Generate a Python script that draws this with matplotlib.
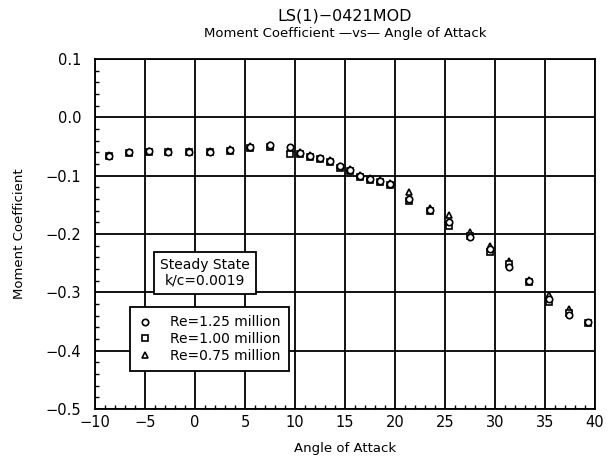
import matplotlib
matplotlib.use("Agg")
import matplotlib.pyplot as plt
from matplotlib.ticker import MultipleLocator

plt.rcParams['font.family'] = ['DejaVu Sans']

alpha = [-8.6, -6.6, -4.6, -2.7, -0.6, 1.5, 3.5, 5.5, 7.5, 9.5, 10.5, 11.5, 12.5,
         13.5, 14.5, 15.5, 16.5, 17.5, 18.5, 19.5, 21.4, 23.5, 25.4, 27.5, 29.5,
         31.4, 33.4, 35.4, 37.4, 39.3]

cm_125 = [-0.066, -0.060, -0.058, -0.059, -0.059, -0.059, -0.056, -0.050, -0.048,
          -0.050, -0.061, -0.066, -0.070, -0.074, -0.084, -0.090, -0.100, -0.105,
          -0.109, -0.114, -0.140, -0.158, -0.180, -0.205, -0.226, -0.256, -0.280,
          -0.312, -0.338, -0.350]
cm_100 = [-0.067, -0.061, -0.059, -0.060, -0.060, -0.060, -0.057, -0.052, -0.050,
          -0.063, -0.063, -0.068, -0.072, -0.076, -0.086, -0.092, -0.102, -0.107,
          -0.111, -0.116, -0.143, -0.160, -0.187, -0.203, -0.230, -0.252, -0.282,
          -0.317, -0.336, -0.352]
alpha_075 = alpha[:-1]
cm_075 = [-0.065, -0.059, -0.057, -0.058, -0.058, -0.058, -0.055, -0.049, -0.047,
          -0.055, -0.060, -0.065, -0.069, -0.073, -0.083, -0.089, -0.099, -0.104,
          -0.108, -0.113, -0.128, -0.155, -0.168, -0.197, -0.220, -0.246, -0.278,
          -0.304, -0.328]

labels = ['Re=1.25 million', 'Re=1.00 million', 'Re=0.75 million']
xticks = [-10, -5, 0, 5, 10, 15, 20, 25, 30, 35, 40]
yticks = [0.1, 0.0, -0.1, -0.2, -0.3, -0.4, -0.5]

fig = plt.figure(figsize=(6.15, 4.62), dpi=100)
ax = fig.add_axes([0.1545, 0.1147, 0.813, 0.7576])

mk = dict(linestyle='none', markerfacecolor='white', markeredgecolor='black',
          markeredgewidth=1.2, markersize=4.6, color='black')
ax.plot(alpha_075, cm_075, marker='^', label=labels[2], zorder=3, **mk)
ax.plot(alpha, cm_100, marker='s', label=labels[1], zorder=4, **mk)
ax.plot(alpha, cm_125, marker='o', label=labels[0], zorder=5, **mk)

ax.set_xlim(-10, 40)
ax.set_ylim(-0.5, 0.1)
ax.set_xticks(xticks)
ax.set_yticks(yticks)
ax.set_xticklabels([str(t).replace('-', '\u2212') for t in xticks])
ax.set_yticklabels([f"{t:.1f}".replace('-', '\u2212') for t in yticks])
ax.xaxis.set_minor_locator(MultipleLocator(1))
ax.yaxis.set_minor_locator(MultipleLocator(0.02))
ax.tick_params(which='both', direction='in', top=False, right=False,
               labelsize=10.5, colors='black')
ax.tick_params(which='major', length=0)
ax.tick_params(axis='y', which='major', pad=10)
ax.tick_params(axis='x', which='major', pad=4)
ax.tick_params(which='minor', length=3, width=1)
ax.grid(True, which='major', color='black', linewidth=1.3)
for s in ax.spines.values():
    s.set_linewidth(1.3)
    s.set_color('black')

ax.set_xlabel('Angle of Attack', fontsize=9.5, labelpad=9)
ax.set_ylabel('Moment Coefficient', fontsize=9.5, labelpad=14)

fig.text(0.561, 0.965, 'LS(1)\u22120421MOD', ha='center', va='center', fontsize=11.5)
fig.text(0.561, 0.927, 'Moment Coefficient \u2014vs\u2014 Angle of Attack',
         ha='center', va='center', fontsize=9.5)

ax.text(0.22, 0.389, 'Steady State\nk/c=0.0019', transform=ax.transAxes,
        ha='center', va='center', fontsize=10, linespacing=1.1, zorder=6,
        bbox=dict(boxstyle='square,pad=0.45', facecolor='white',
                  edgecolor='black', linewidth=1.3))

handles, labs = ax.get_legend_handles_labels()
order = [2, 1, 0]
leg = ax.legend([handles[i] for i in order], [labs[i] for i in order],
                loc='upper left', bbox_to_anchor=(0.07, 0.291), fontsize=10,
                frameon=True, fancybox=False, framealpha=1, edgecolor='black',
                borderpad=0.6, labelspacing=0.2, handlelength=1.0,
                handletextpad=1.3, borderaxespad=0)
leg.get_frame().set_linewidth(1.3)
leg.set_zorder(6)

fig.savefig('out.png', dpi=100, facecolor='white')
